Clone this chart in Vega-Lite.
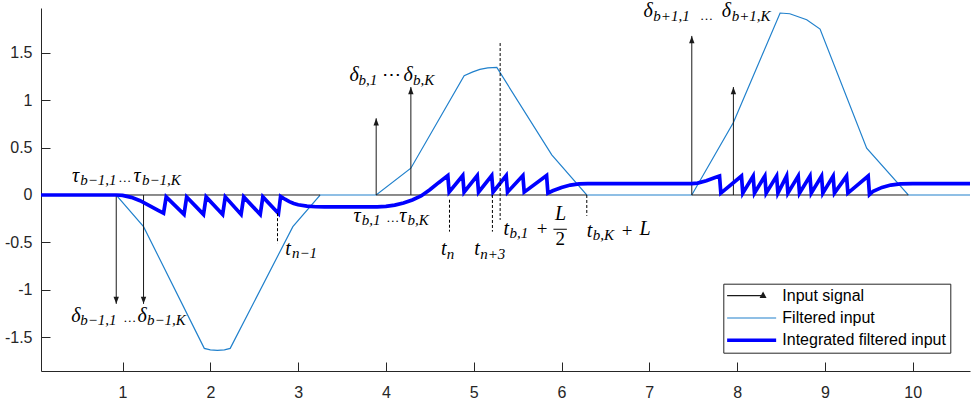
{
  "$schema": "https://vega.github.io/schema/vega-lite/v6.json",
  "width": 929,
  "height": 363,
  "autosize": {"type": "none"},
  "padding": {"left": 41, "top": 8, "right": 6, "bottom": 36},
  "background": "white",
  "config": {
    "view": {"stroke": null},
    "axis": {
      "title": null,
      "grid": false,
      "domainColor": "#262626",
      "tickColor": "#262626",
      "labelColor": "#262626",
      "labelFont": "Liberation Sans",
      "labelFontSize": 16,
      "tickSize": -9,
      "domainWidth": 1,
      "tickWidth": 1
    },
    "text": {"font": "Liberation Serif", "color": "black", "align": "left", "baseline": "alphabetic"}
  },
  "datasets": {
    "filtered": [
      {"x": 0.071, "Filtered input": 0}, {"x": 0.928, "Filtered input": 0}, {"x": 1.239, "Filtered input": -0.334}, {"x": 1.931, "Filtered input": -1.62},
      {"x": 2.0, "Filtered input": -1.635}, {"x": 2.08, "Filtered input": -1.642}, {"x": 2.16, "Filtered input": -1.635}, {"x": 2.226, "Filtered input": -1.62},
      {"x": 2.94, "Filtered input": -0.334}, {"x": 3.25, "Filtered input": 0}, {"x": 3.889, "Filtered input": 0}, {"x": 4.284, "Filtered input": 0.283},
      {"x": 4.891, "Filtered input": 1.259}, {"x": 4.99, "Filtered input": 1.3}, {"x": 5.07, "Filtered input": 1.327}, {"x": 5.16, "Filtered input": 1.342},
      {"x": 5.263, "Filtered input": 1.347}, {"x": 5.889, "Filtered input": 0.424}, {"x": 6.287, "Filtered input": 0}, {"x": 7.484, "Filtered input": 0},
      {"x": 7.958, "Filtered input": 0.765}, {"x": 8.49, "Filtered input": 1.922}, {"x": 8.6, "Filtered input": 1.914}, {"x": 8.793, "Filtered input": 1.851},
      {"x": 8.945, "Filtered input": 1.753}, {"x": 9.476, "Filtered input": 0.495}, {"x": 9.95, "Filtered input": 0}, {"x": 10.653, "Filtered input": 0}
    ],
    "integrated": [
      {"x": 0.071, "y": 0}, {"x": 0.928, "y": 0}, {"x": 1.0, "y": -0.004}, {"x": 1.1, "y": -0.025},
      {"x": 1.2, "y": -0.06}, {"x": 1.3, "y": -0.11}, {"x": 1.4, "y": -0.16}, {"x": 1.467, "y": -0.192},
      {"x": 1.497, "y": -0.02}, {"x": 1.7, "y": -0.205}, {"x": 1.73, "y": -0.02}, {"x": 1.922, "y": -0.205},
      {"x": 1.952, "y": -0.02}, {"x": 2.14, "y": -0.205}, {"x": 2.17, "y": -0.02}, {"x": 2.35, "y": -0.205},
      {"x": 2.38, "y": -0.02}, {"x": 2.568, "y": -0.205}, {"x": 2.598, "y": -0.02}, {"x": 2.776, "y": -0.195},
      {"x": 2.8, "y": -0.015}, {"x": 2.85, "y": -0.045}, {"x": 2.9, "y": -0.07}, {"x": 2.95, "y": -0.09},
      {"x": 3.0, "y": -0.103}, {"x": 3.1, "y": -0.118}, {"x": 3.2, "y": -0.124}, {"x": 3.3, "y": -0.125},
      {"x": 3.9, "y": -0.125}, {"x": 4.0, "y": -0.12}, {"x": 4.1, "y": -0.107}, {"x": 4.2, "y": -0.085},
      {"x": 4.3, "y": -0.052}, {"x": 4.4, "y": -0.01}, {"x": 4.5, "y": 0.055}, {"x": 4.6, "y": 0.13},
      {"x": 4.705, "y": 0.205}, {"x": 4.72, "y": 0.03}, {"x": 4.875, "y": 0.205}, {"x": 4.89, "y": 0.03},
      {"x": 5.04, "y": 0.205}, {"x": 5.055, "y": 0.03}, {"x": 5.205, "y": 0.205}, {"x": 5.22, "y": 0.03},
      {"x": 5.37, "y": 0.205}, {"x": 5.385, "y": 0.03}, {"x": 5.56, "y": 0.205}, {"x": 5.575, "y": 0.03},
      {"x": 5.83, "y": 0.205}, {"x": 5.845, "y": 0.02}, {"x": 5.9, "y": 0.045}, {"x": 6.0, "y": 0.08},
      {"x": 6.1, "y": 0.105}, {"x": 6.2, "y": 0.117}, {"x": 6.3, "y": 0.12}, {"x": 7.484, "y": 0.12},
      {"x": 7.55, "y": 0.125}, {"x": 7.65, "y": 0.15}, {"x": 7.75, "y": 0.185}, {"x": 7.8, "y": 0.2},
      {"x": 7.815, "y": 0.02}, {"x": 8.05, "y": 0.2}, {"x": 8.065, "y": 0.02}, {"x": 8.183, "y": 0.2},
      {"x": 8.198, "y": 0.02}, {"x": 8.316, "y": 0.2}, {"x": 8.331, "y": 0.02}, {"x": 8.45, "y": 0.2},
      {"x": 8.465, "y": 0.02}, {"x": 8.564, "y": 0.2}, {"x": 8.579, "y": 0.02}, {"x": 8.696, "y": 0.2},
      {"x": 8.711, "y": 0.02}, {"x": 8.83, "y": 0.2}, {"x": 8.845, "y": 0.02}, {"x": 8.962, "y": 0.2},
      {"x": 8.977, "y": 0.02}, {"x": 9.094, "y": 0.2}, {"x": 9.109, "y": 0.02}, {"x": 9.247, "y": 0.2},
      {"x": 9.262, "y": 0.02}, {"x": 9.493, "y": 0.2}, {"x": 9.508, "y": 0.005}, {"x": 9.55, "y": 0.04},
      {"x": 9.65, "y": 0.08}, {"x": 9.75, "y": 0.105}, {"x": 9.86, "y": 0.117}, {"x": 10.0, "y": 0.12},
      {"x": 10.653, "y": 0.12}
    ],
    "baseline": [
      {"x": 0.928, "x2": 3.25, "y": 0}, {"x": 3.889, "x2": 6.287, "y": 0}, {"x": 7.484, "x2": 9.95, "y": 0}
    ],
    "arrows": [
      {"x": 0.928, "y": 0, "tip": -1.15, "dir": "down"}, {"x": 1.239, "y": 0, "tip": -1.15, "dir": "down"},
      {"x": 3.889, "y": 0, "tip": 0.81, "dir": "up"}, {"x": 4.284, "y": 0, "tip": 1.14, "dir": "up"},
      {"x": 7.484, "y": 0, "tip": 1.68, "dir": "up"}, {"x": 7.958, "y": 0, "tip": 1.14, "dir": "up"}
    ],
    "dashes": [
      {"x": 2.765, "y": -0.192, "y2": -0.51},
      {"x": 4.724, "y": -0.05, "y2": -0.387},
      {"x": 5.213, "y": 0.0, "y2": -0.387},
      {"x": 5.301, "y": 1.605, "y2": -0.263},
      {"x": 6.288, "y": 0.0, "y2": -0.22}
    ],
    "fracbar": [{"x": 5.908, "x2": 6.061, "y": -0.362}],
    "labels": [
      {"x": 0.424, "y": 0.142, "text": "τ", "role": "main"},
      {"x": 0.951, "y": 0.142, "text": "…", "role": "dots"},
      {"x": 1.125, "y": 0.142, "text": "τ", "role": "main"},
      {"x": 0.518, "y": 0.101, "text": "b−1,1", "role": "sub"},
      {"x": 1.221, "y": 0.101, "text": "b−1,K", "role": "sub"},
      {"x": 0.416, "y": -1.338, "text": "δ", "role": "main"},
      {"x": 1.008, "y": -1.338, "text": "…", "role": "dots"},
      {"x": 1.171, "y": -1.338, "text": "δ", "role": "main"},
      {"x": 0.518, "y": -1.373, "text": "b−1,1", "role": "sub"},
      {"x": 1.278, "y": -1.373, "text": "b−1,K", "role": "sub"},
      {"x": 2.853, "y": -0.633, "text": "t", "role": "main"},
      {"x": 2.929, "y": -0.665, "text": "n−1", "role": "sub"},
      {"x": 3.585, "y": 1.199, "text": "δ", "role": "main"},
      {"x": 3.954, "y": 1.199, "text": "⋯", "role": "up"},
      {"x": 4.2, "y": 1.199, "text": "δ", "role": "main"},
      {"x": 3.687, "y": 1.164, "text": "b,1", "role": "sub"},
      {"x": 4.307, "y": 1.164, "text": "b,K", "role": "sub"},
      {"x": 3.63, "y": -0.281, "text": "τ", "role": "main"},
      {"x": 4.005, "y": -0.281, "text": "…", "role": "dots"},
      {"x": 4.151, "y": -0.281, "text": "τ", "role": "main"},
      {"x": 3.726, "y": -0.321, "text": "b,1", "role": "sub"},
      {"x": 4.245, "y": -0.321, "text": "b,K", "role": "sub"},
      {"x": 4.626, "y": -0.633, "text": "t", "role": "main"},
      {"x": 4.694, "y": -0.675, "text": "n", "role": "sub"},
      {"x": 5.005, "y": -0.633, "text": "t", "role": "main"},
      {"x": 5.073, "y": -0.675, "text": "n+3", "role": "sub"},
      {"x": 5.338, "y": -0.422, "text": "t", "role": "main"},
      {"x": 5.407, "y": -0.459, "text": "b,1", "role": "sub"},
      {"x": 5.719, "y": -0.422, "text": "+", "role": "up"},
      {"x": 5.927, "y": -0.263, "text": "L", "role": "main"},
      {"x": 5.932, "y": -0.527, "text": "2", "role": "up"},
      {"x": 6.288, "y": -0.44, "text": "t", "role": "main"},
      {"x": 6.356, "y": -0.475, "text": "b,K", "role": "sub"},
      {"x": 6.687, "y": -0.44, "text": "+", "role": "up"},
      {"x": 6.889, "y": -0.422, "text": "L", "role": "main"},
      {"x": 6.933, "y": 1.883, "text": "δ", "role": "main"},
      {"x": 7.046, "y": 1.833, "text": "b+1,1", "role": "sub"},
      {"x": 7.578, "y": 1.85, "text": "…", "role": "dots"},
      {"x": 7.825, "y": 1.883, "text": "δ", "role": "main"},
      {"x": 7.939, "y": 1.833, "text": "b+1,K", "role": "sub"}
    ]
  },
  "layer": [
    {
      "data": {"name": "filtered"},
      "transform": [{"fold": ["Filtered input"], "as": ["series", "y"]}],
      "mark": {"type": "line", "strokeWidth": 1.2},
      "encoding": {
        "x": {"field": "x", "type": "quantitative",
              "scale": {"domain": [0.071, 10.653], "nice": false, "zero": false},
              "axis": {"values": [1, 2, 3, 4, 5, 6, 7, 8, 9, 10], "format": "d", "labelPadding": 22, "labelFlush": false, "labelOverlap": false}},
        "y": {"field": "y", "type": "quantitative",
              "scale": {"domain": [-1.859, 1.975], "nice": false, "zero": false},
              "axis": {"values": [-1.5, -1, -0.5, 0, 0.5, 1, 1.5], "labelPadding": 18, "labelOverlap": false,
                       "labelExpr": "replace(format(datum.value, '~g'), '\u2212', '-')"}},
        "color": {"field": "series", "type": "nominal",
                  "scale": {"domain": ["Input signal", "Filtered input", "Integrated filtered input"],
                            "range": ["#1a1a1a", "#2080cc", "#0000ff"]},
                  "legend": {
                    "orient": "none", "legendX": 682.3, "legendY": 275.7, "title": null,
                    "fillColor": "white", "strokeColor": "#262626", "padding": 4, "cornerRadius": 0,
                    "labelFont": "Liberation Sans", "labelFontSize": 16, "labelColor": "black", "labelLimit": 400,
                    "labelOffset": 39, "rowPadding": 6.3,
                    "symbolType": "M-1,0H5", "symbolSize": 267, "symbolStrokeWidth": 1,
                    "encode": {"symbols": {"update": {
                      "shape": {"signal": "datum.value === 'Input signal' ? 'M-1,0H3.45M3.1,0.2L3.4,-0.35L3.7,0.2Z' : 'M-1,0H5'"},
                      "strokeWidth": {"signal": "datum.value === 'Integrated filtered input' ? 3.5 : 1.2"},
                      "stroke": {"signal": "datum.value === 'Input signal' ? '#1a1a1a' : datum.value === 'Filtered input' ? '#2080cc' : '#0000ff'"},
                      "fill": {"signal": "datum.value === 'Input signal' ? '#1a1a1a' : 'transparent'"}
                    }}}
                  }}
      }
    },
    {
      "data": {"name": "baseline"},
      "mark": {"type": "rule", "strokeWidth": 1, "color": "#1a1a1a"},
      "encoding": {
        "x": {"field": "x", "type": "quantitative"},
        "x2": {"field": "x2"},
        "y": {"field": "y", "type": "quantitative"}
      }
    },
    {
      "data": {"name": "arrows"},
      "mark": {"type": "rule", "strokeWidth": 1, "color": "#1a1a1a"},
      "encoding": {
        "x": {"field": "x", "type": "quantitative"},
        "y": {"field": "y", "type": "quantitative"},
        "y2": {"field": "tip"}
      }
    },
    {
      "data": {"name": "integrated"},
      "mark": {"type": "line", "strokeWidth": 3.7, "color": "#0000ff"},
      "encoding": {
        "x": {"field": "x", "type": "quantitative"},
        "y": {"field": "y", "type": "quantitative"}
      }
    },
    {
      "data": {"name": "arrows"},
      "mark": {"type": "point", "filled": true, "size": 144, "opacity": 1, "color": "#1a1a1a", "strokeWidth": 0},
      "encoding": {
        "x": {"field": "x", "type": "quantitative"},
        "y": {"field": "tip", "type": "quantitative"},
        "shape": {"field": "dir", "type": "nominal",
                  "scale": {"domain": ["up", "down"], "range": ["M0,0L-0.45,1.2L0.45,1.2Z", "M0,0L-0.45,-1.2L0.45,-1.2Z"]},
                  "legend": null}
      }
    },
    {
      "data": {"name": "dashes"},
      "mark": {"type": "rule", "strokeWidth": 1, "strokeDash": [3, 2], "color": "black"},
      "encoding": {
        "x": {"field": "x", "type": "quantitative"},
        "y": {"field": "y", "type": "quantitative"},
        "y2": {"field": "y2"}
      }
    },
    {
      "data": {"name": "fracbar"},
      "mark": {"type": "rule", "strokeWidth": 1, "color": "black"},
      "encoding": {
        "x": {"field": "x", "type": "quantitative"},
        "x2": {"field": "x2"},
        "y": {"field": "y", "type": "quantitative"}
      }
    },
    {
      "data": {"name": "labels"},
      "transform": [{"filter": "datum.role === 'main'"}],
      "mark": {"type": "text", "fontSize": 20, "fontStyle": "italic"},
      "encoding": {
        "x": {"field": "x", "type": "quantitative"},
        "y": {"field": "y", "type": "quantitative"},
        "text": {"field": "text"}
      }
    },
    {
      "data": {"name": "labels"},
      "transform": [{"filter": "datum.role === 'up'"}],
      "mark": {"type": "text", "fontSize": 19},
      "encoding": {
        "x": {"field": "x", "type": "quantitative"},
        "y": {"field": "y", "type": "quantitative"},
        "text": {"field": "text"}
      }
    },
    {
      "data": {"name": "labels"},
      "transform": [{"filter": "datum.role === 'dots'"}],
      "mark": {"type": "text", "fontSize": 13},
      "encoding": {
        "x": {"field": "x", "type": "quantitative"},
        "y": {"field": "y", "type": "quantitative"},
        "text": {"field": "text"}
      }
    },
    {
      "data": {"name": "labels"},
      "transform": [{"filter": "datum.role === 'sub'"}],
      "mark": {"type": "text", "fontSize": 15, "fontStyle": "italic"},
      "encoding": {
        "x": {"field": "x", "type": "quantitative"},
        "y": {"field": "y", "type": "quantitative"},
        "text": {"field": "text"}
      }
    }
  ]
}
